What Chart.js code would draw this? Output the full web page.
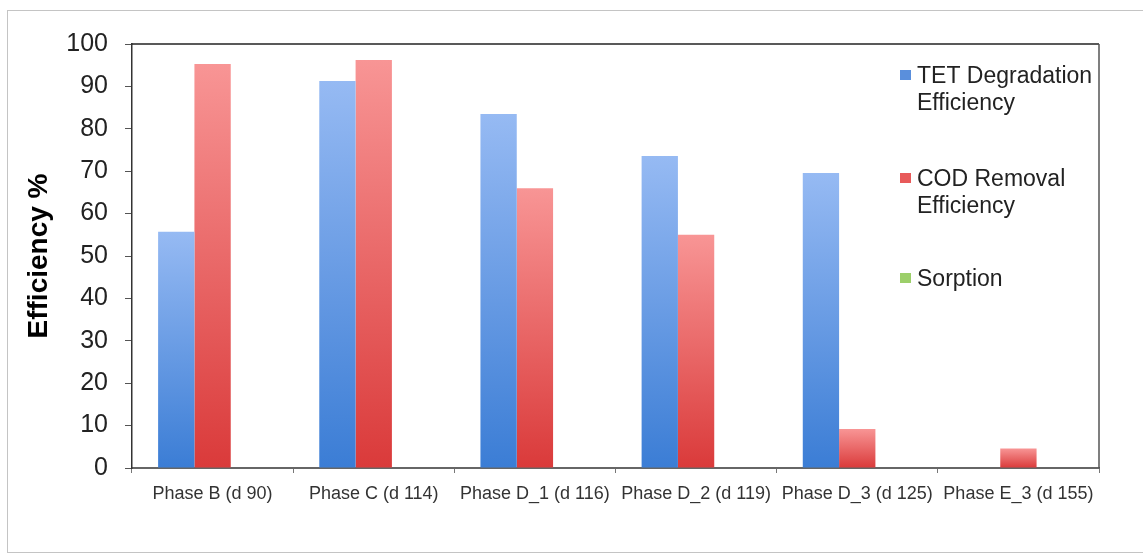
<!DOCTYPE html>
<html>
<head>
<meta charset="utf-8">
<script src="https://cdn.jsdelivr.net/npm/chart.js@4.4.1/dist/chart.umd.min.js"></script>
<style>
  html, body { margin: 0; padding: 0; background: #fff; }
  #wrap { position: relative; width: 1143px; height: 557px; overflow: hidden; }
  #frame {
    position: absolute; left: 7px; top: 10px; width: 1200px; height: 543px;
    border: 1px solid #c4c4c4; box-sizing: border-box;
  }
  canvas { position: absolute; left: 0; top: 0; }
</style>
</head>
<body>
<div id="wrap">
  <div id="frame"></div>
  <canvas id="efficiencyChart" width="1143" height="557"></canvas>
</div>
<script>
// categories and series
const phases = [
  "Phase B (d 90)",
  "Phase C (d 114)",
  "Phase D_1 (d 116)",
  "Phase D_2 (d 119)",
  "Phase D_3 (d 125)",
  "Phase E_3 (d 155)",
];
const tetDegradation = [55.7, 91.3, 83.5, 73.6, 69.6, 0];
const codRemoval = [95.3, 96.2, 66.0, 55.0, 9.2, 4.6];
const sorption = [0, 0, 0, 0, 0, 0];

const yTicks = [0, 10, 20, 30, 40, 50, 60, 70, 80, 90, 100];

const fontFamily = '"Liberation Sans", Arial, sans-serif';

// per bar vertical gradient, light at the top and darker at the base
function barGradient(context, topColor, bottomColor) {
  const chart = context.chart;
  const yScale = chart.scales.y;
  if (!chart.chartArea || !yScale) return bottomColor;
  const y0 = yScale.getPixelForValue(0);
  const y1 = yScale.getPixelForValue(context.raw);
  if (!isFinite(y0) || !isFinite(y1) || y0 === y1) return bottomColor;
  const g = chart.ctx.createLinearGradient(0, y1, 0, y0);
  g.addColorStop(0, topColor);
  g.addColorStop(1, bottomColor);
  return g;
}

// legend drawn inside the plot on the right, like the original
const sideLegend = {
  id: "sideLegend",
  afterDraw(chart) {
    const c = chart.ctx;
    const items = [
      { lines: ["TET Degradation", "Efficiency"], color: "#5a8fdc", y: 77 },
      { lines: ["COD Removal", "Efficiency"], color: "#e85a5a", y: 180 },
      { lines: ["Sorption"], color: "#9ccf6a", y: 280 },
    ];
    c.save();
    c.font = "23px " + fontFamily;
    c.fillStyle = "#222";
    c.textBaseline = "middle";
    items.forEach((item) => {
      c.fillStyle = item.color;
      c.fillRect(900, item.y - 7, 11, 10);
      c.fillStyle = "#222";
      item.lines.forEach((line, i) => {
        c.fillText(line, 917, item.y + i * 27);
      });
    });
    c.restore();
  },
};

// top and right edges of the plot frame
const plotFrame = {
  id: "plotFrame",
  afterDatasetsDraw(chart) {
    const { left, right, top, bottom } = chart.chartArea;
    const c = chart.ctx;
    c.save();
    c.strokeStyle = "#222";
    c.lineWidth = 1.5;
    c.beginPath();
    c.moveTo(left, top);
    c.lineTo(right, top);
    c.stroke();
    c.strokeStyle = "#555";
    c.beginPath();
    c.moveTo(right, top);
    c.lineTo(right, bottom);
    c.stroke();
    c.restore();
  },
};

const ctx = document.getElementById("efficiencyChart").getContext("2d");

new Chart(ctx, {
  type: "bar",
  data: {
    labels: phases,
    datasets: [
      {
        label: "TET Degradation Efficiency",
        data: tetDegradation,
        backgroundColor: (c) => barGradient(c, "#96baf3", "#3b7dd5"),
        categoryPercentage: 0.676,
        barPercentage: 1.0,
      },
      {
        label: "COD Removal Efficiency",
        data: codRemoval,
        backgroundColor: (c) => barGradient(c, "#f89595", "#da3a3a"),
        categoryPercentage: 0.676,
        barPercentage: 1.0,
      },
      {
        label: "Sorption",
        data: sorption,
        backgroundColor: "#8cc45a",
        categoryPercentage: 0.676,
        barPercentage: 1.0,
      },
    ],
  },
  options: {
    responsive: false,
    animation: false,
    layout: {
      padding: { left: 22, right: 44, top: 44, bottom: 0 },
    },
    plugins: {
      legend: { display: false },
      tooltip: { enabled: false },
    },
    scales: {
      x: {
        offset: true,
        grid: {
          offset: true,
          drawOnChartArea: false,
          tickLength: 5,
          color: "#777",
        },
        border: { color: "#666", width: 2 },
        ticks: {
          color: "#333",
          padding: 10,
          maxRotation: 0,
          autoSkip: false,
          font: { family: fontFamily, size: 18 },
        },
        afterFit(scale) {
          scale.height = 89;
        },
      },
      y: {
        min: 0,
        max: 100,
        afterBuildTicks(scale) {
          scale.ticks = yTicks.map((v) => ({ value: v }));
        },
        grid: {
          drawOnChartArea: false,
          tickLength: 7,
          color: "#555",
        },
        border: { color: "#333", width: 1.5 },
        ticks: {
          color: "#222",
          padding: 17,
          font: { family: fontFamily, size: 25 },
        },
        title: {
          display: true,
          text: "Efficiency %",
          color: "#000",
          padding: 0,
          font: { family: fontFamily, size: 28, weight: "bold" },
        },
        afterFit(scale) {
          scale.width = 110;
        },
      },
    },
  },
  plugins: [plotFrame, sideLegend],
});
</script>
</body>
</html>
